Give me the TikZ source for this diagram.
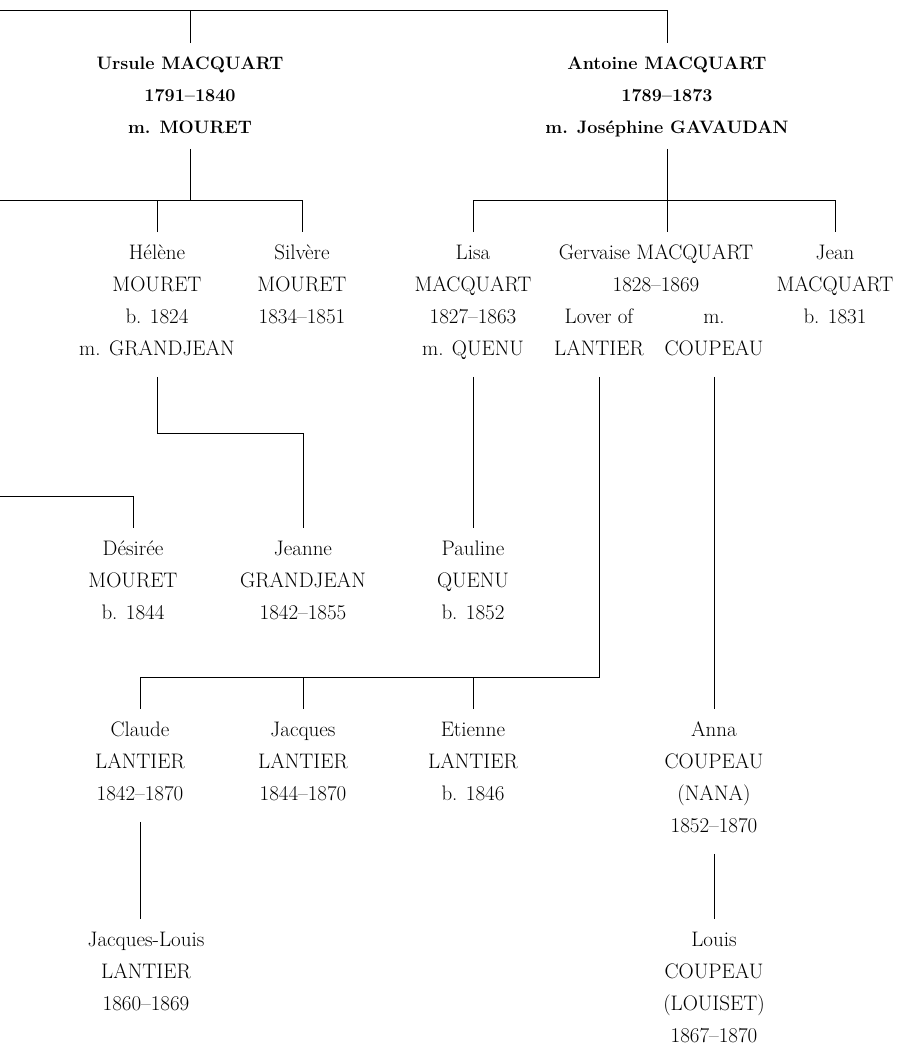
\documentclass[tikz,border=0pt]{standalone}
\usepackage{fontspec}
\newcommand{\pertop}{\rule{0pt}{27pt}}
\newcommand{\anctop}{\rule{0pt}{26pt}}
\begin{document}
\begin{tikzpicture}[x=1pt, y=-1pt, line width=0.9pt,
  person/.style={align=center, inner sep=0pt, font=\fontsize{21}{32}\selectfont,
    execute at end node={\rule[-21pt]{0pt}{21pt}}},
  ancestor/.style={align=center, inner sep=0pt, font=\bfseries\fontsize{18}{32}\selectfont,
    execute at end node={\rule[-15pt]{0pt}{15pt}}}]
\useasboundingbox (0,0) rectangle (898,1050);
% first generation
\node[ancestor, anchor=north] (ursule) at (190,43){\anctop Ursule MACQUART\\1791--1840\\m. MOURET};
\node[ancestor, anchor=north] (antoine) at (667,43){\anctop Antoine MACQUART\\1789--1873\\m. Joséphine GAVAUDAN};
% second generation
\node[person, anchor=north] (helene) at (157,232){\pertop Hélène\\MOURET\\b. 1824\\m. GRANDJEAN};
\node[person, anchor=north] (silvere) at (302,232){\pertop Silvère\\MOURET\\1834--1851};
\node[person, anchor=north] (lisa) at (473,232){\pertop Lisa\\MACQUART\\1827--1863\\m. QUENU};
\node[person, anchor=north, execute at end node={}] (gervaise) at (656,232){\pertop Gervaise MACQUART\\1828--1869};
\node[person, anchor=north] (gervLover) at (599,296){\pertop Lover of\\LANTIER};
\node[person, anchor=north] (gervMarr) at (714,296){\pertop m.\\COUPEAU};
\node[person, anchor=north] (jean) at (835,232){\pertop Jean\\MACQUART\\b. 1831};
% third generation
\node[person, anchor=north] (desiree) at (133,528){\pertop Désirée\\MOURET\\b. 1844};
\node[person, anchor=north] (jeanne) at (303,528){\pertop Jeanne\\GRANDJEAN\\1842--1855};
\node[person, anchor=north] (pauline) at (473,528){\pertop Pauline\\QUENU\\b. 1852};
\node[person, anchor=north] (claude) at (140,709){\pertop Claude\\LANTIER\\1842--1870};
\node[person, anchor=north] (jacques) at (303,709){\pertop Jacques\\LANTIER\\1844--1870};
\node[person, anchor=north] (etienne) at (473,709){\pertop Etienne\\LANTIER\\b. 1846};
\node[person, anchor=north] (anna) at (714,709){\pertop Anna\\COUPEAU\\(NANA)\\1852--1870};
% fourth generation
\node[person, anchor=north] (jacqLouis) at (146,919){\pertop Jacques-Louis\\LANTIER\\1860--1869};
\node[person, anchor=north] (louis) at (714,919){\pertop Louis\\COUPEAU\\(LOUISET)\\1867--1870};
% bars running off the left edge
\coordinate (topW) at (0,10);
\coordinate (mouretW) at (0,200);
\coordinate (desireeW) at (0,496);
\coordinate (grandjBar) at (0,433);
\coordinate (lantierBar) at (0,677);
% connectors
\draw[](topW) -| (antoine.north);
\draw[](ursule.north) -- (ursule.north |- topW);
\draw[](ursule.south) -- (ursule.south |- mouretW);
\draw[](mouretW) -| (silvere.north);
\draw[](helene.north) -- (helene.north |- mouretW);
\draw[](antoine.south) -- (antoine.south |- lisa.north);
\draw[](lisa.north) -- ++(0,-32) -| (jean.north);
\draw[](helene.south) |- (jeanne.north |- grandjBar) -- (jeanne.north);
\draw[](desireeW) -| (desiree.north);
\draw[](lisa.south) -- (pauline.north);
\draw[](gervLover.south) |- (claude.north |- lantierBar) -- (claude.north);
\draw[](jacques.north) -- (jacques.north |- lantierBar);
\draw[](etienne.north) -- (etienne.north |- lantierBar);
\draw[](gervMarr.south) -- (anna.north);
\draw[](claude.south) -- (claude.south |- jacqLouis.north);
\draw[](anna.south) -- (louis.north);
\end{tikzpicture}
\end{document}
